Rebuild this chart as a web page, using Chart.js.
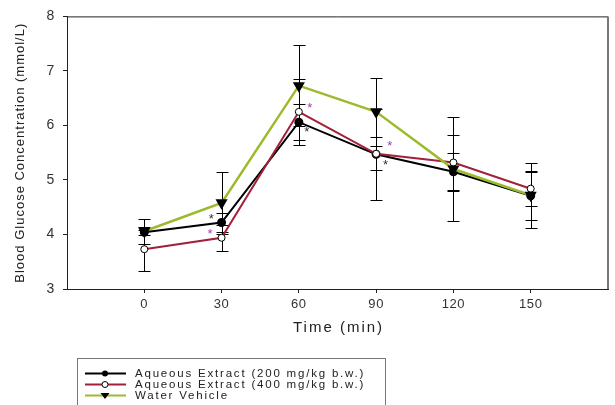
<!DOCTYPE html>
<html>
<head>
<meta charset="utf-8">
<script src="https://cdn.jsdelivr.net/npm/chart.js@4"></script>
<style>
  html, body { margin: 0; padding: 0; background: #fff; }
  #wrap { position: relative; width: 615px; height: 405px; }
  #legend {
    position: absolute; left: 77px; top: 358px; width: 309px; height: 60px;
    border: 1px solid #777; box-sizing: border-box;
    font-family: "Liberation Sans", Arial, sans-serif; font-size: 11.5px; color: #222;
    letter-spacing: 1.8px;
  }
  .row { position: absolute; left: 7px; height: 11px; line-height: 11px; white-space: nowrap; }
  .row svg { position: absolute; left: 0; top: 0; }
  .row span { position: absolute; left: 50px; top: 0; }
</style>
</head>
<body>
<div id="wrap">
  <canvas id="glucose" width="615" height="405"></canvas>
  <div id="legend"></div>
</div>
<script>
const times = [0, 30, 60, 90, 120, 150];
const yTicks = [3, 4, 5, 6, 7, 8];

const labels = ['Aqueous Extract (200 mg/kg b.w.)', 'Aqueous Extract (400 mg/kg b.w.)', 'Water Vehicle'];
const extract200 = [4.04, 4.22, 6.06, 5.47, 5.15, 4.71];
const extract400 = [3.73, 3.94, 6.25, 5.48, 5.32, 4.84];
const vehicle = [4.06, 4.58, 6.73, 6.25, 5.20, 4.72];

const err200 = [0.05, 0.17, 0.33, 0.84, 0.35, 0.45];
const err400 = [0.40, 0.24, 0.61, 0.30, 0.51, 0.31];
const errVehicle = [0.23, 0.57, 0.74, 0.62, 0.96, 0.60];

// significance stars: [time, value, colour index]
const stars = [
    [26, 4.34, 0], [25.5, 4.06, 1],
    [64.2, 6.37, 1], [63.1, 5.92, 0],
    [95.3, 5.67, 1], [93.6, 5.32, 0]
];

const xTitle = 'Time (min)';
const yTitle = 'Blood Glucose Concentration (mmol/L)';

const colors = ['#000000', '#a3203a', '#9bbb2c'];
const starColors = ['#333333', '#a040a8'];
const FONT = '"Liberation Sans", Arial, sans-serif';

function pts(arr) {
    return times.map((t, i) => ({ x: t, y: arr[i] }));
}

const extras = {
    id: 'extras',
    beforeDraw(chart) {
        chart.ctx.letterSpacing = '0.6px';
    },
    beforeDatasetsDraw(chart) {
        const { ctx, scales: { x, y } } = chart;
        ctx.save();
        ctx.strokeStyle = '#000';
        ctx.lineWidth = 1;
        chart.data.datasets.forEach(ds => {
            ds.errors.forEach((e, i) => {
                const px = Math.round(x.getPixelForValue(times[i])) + 0.5;
                const top = Math.round(y.getPixelForValue(ds.data[i].y + e)) + 0.5;
                const bot = Math.round(y.getPixelForValue(ds.data[i].y - e)) + 0.5;
                ctx.beginPath();
                ctx.moveTo(px, top); ctx.lineTo(px, bot);
                ctx.moveTo(px - 6, top); ctx.lineTo(px + 6, top);
                ctx.moveTo(px - 6, bot); ctx.lineTo(px + 6, bot);
                ctx.stroke();
            });
        });
        ctx.restore();
    },
    afterDatasetsDraw(chart) {
        const { ctx, scales: { x, y }, chartArea: a } = chart;
        ctx.save();
        ctx.letterSpacing = '0px';
        ctx.font = '13px ' + FONT;
        ctx.textAlign = 'center';
        ctx.textBaseline = 'middle';
        stars.forEach(s => {
            ctx.fillStyle = starColors[s[2]];
            ctx.fillText('*', x.getPixelForValue(s[0]), y.getPixelForValue(s[1]) + 3);
        });
        // box: top border and shaded right border
        ctx.strokeStyle = '#222';
        ctx.lineWidth = 1;
        ctx.beginPath();
        ctx.moveTo(a.left, a.top + 0.5); ctx.lineTo(a.right, a.top + 0.5);
        ctx.stroke();
        ctx.strokeStyle = '#777';
        ctx.lineWidth = 2;
        ctx.beginPath();
        ctx.moveTo(a.right, a.top); ctx.lineTo(a.right, a.bottom);
        ctx.stroke();
        ctx.restore();
    },
    afterDraw(chart) {
        const { ctx, chartArea: a } = chart;
        ctx.save();
        ctx.fillStyle = '#222';
        ctx.textAlign = 'center';
        ctx.textBaseline = 'middle';
        ctx.font = '15px ' + FONT;
        ctx.letterSpacing = '2px';
        ctx.fillText(xTitle, (a.left + a.right) / 2 + 1, 328);
        ctx.font = '13px ' + FONT;
        ctx.letterSpacing = '1px';
        ctx.translate(20, (a.top + a.bottom) / 2);
        ctx.rotate(-Math.PI / 2);
        ctx.fillText(yTitle, 0, 0);
        ctx.restore();
    }
};

new Chart(document.getElementById('glucose'), {
    type: 'line',
    data: {
        datasets: [
            {
                label: labels[0],
                data: pts(extract200),
                errors: err200,
                borderColor: colors[0],
                backgroundColor: colors[0],
                borderWidth: 2,
                pointStyle: 'circle',
                pointRadius: 3.5,
                pointBorderColor: '#000',
                pointBackgroundColor: '#000',
                order: 3
            },
            {
                label: labels[1],
                data: pts(extract400),
                errors: err400,
                borderColor: colors[1],
                backgroundColor: '#fff',
                borderWidth: 2,
                pointStyle: 'circle',
                pointRadius: 3.5,
                pointBorderColor: '#000',
                pointBorderWidth: 1,
                pointBackgroundColor: '#fff',
                order: 2
            },
            {
                label: labels[2],
                data: pts(vehicle),
                errors: errVehicle,
                borderColor: colors[2],
                backgroundColor: '#000',
                borderWidth: 2.5,
                pointStyle: 'triangle',
                pointRotation: 180,
                pointRadius: 4.5,
                pointBorderColor: '#000',
                pointBackgroundColor: '#000',
                order: 1
            }
        ]
    },
    options: {
        responsive: false,
        animation: false,
        layout: { padding: { left: 0, right: 3, top: 16, bottom: 0 } },
        plugins: {
            legend: { display: false },
            tooltip: { enabled: false }
        },
        scales: {
            x: {
                type: 'linear',
                min: -30,
                max: 180,
                afterBuildTicks: s => { s.ticks = times.map(v => ({ value: v })); },
                afterFit: s => { s.height = 116; },
                grid: { drawOnChartArea: false, tickLength: 4, color: '#222' },
                border: { color: '#222', width: 1 },
                ticks: {
                    color: '#333',
                    padding: 4,
                    font: { family: FONT, size: 13 }
                }
            },
            y: {
                min: 3,
                max: 8,
                afterBuildTicks: s => { s.ticks = yTicks.map(v => ({ value: v })); },
                afterFit: s => { s.width = 67; },
                grid: { drawOnChartArea: false, tickLength: 4, color: '#222' },
                border: { color: '#222', width: 1 },
                ticks: {
                    color: '#333',
                    padding: 8,
                    font: { family: FONT, size: 14 }
                }
            }
        }
    },
    plugins: [extras]
});

// legend in HTML
const legendEl = document.getElementById('legend');
const markers = [
    '<circle cx="20" cy="5.5" r="3" fill="#000"/>',
    '<circle cx="20" cy="5.5" r="3" fill="#fff" stroke="#000" stroke-width="1"/>',
    '<path d="M15.5 3 L24.5 3 L20 9 Z" fill="#000"/>'
];
labels.forEach((name, i) => {
    const row = document.createElement('div');
    row.className = 'row';
    row.style.top = (9 + i * 11) + 'px';
    row.innerHTML =
        '<svg width="42" height="11"><line x1="0" y1="5.5" x2="41" y2="5.5" stroke="' + colors[i] +
        '" stroke-width="2"/>' + markers[i] + '</svg><span>' + name + '</span>';
    legendEl.appendChild(row);
});
</script>
</body>
</html>
